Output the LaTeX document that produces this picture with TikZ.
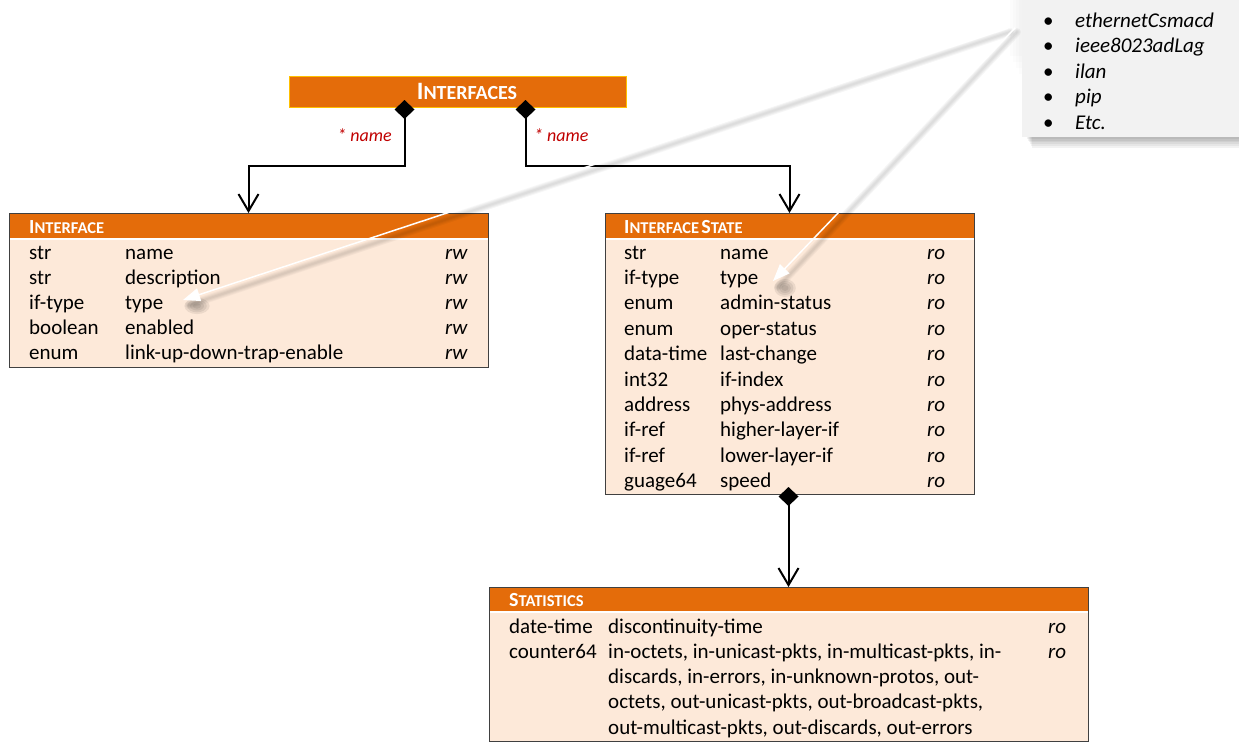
\documentclass[tikz,border=0pt]{standalone}
\usepackage{fontspec}
\setmainfont{Carlito}
\usetikzlibrary{arrows.meta,calc}
\definecolor{hdrc}{HTML}{E46C0A}
\definecolor{bodyc}{HTML}{FDE9D9}
\definecolor{titleedge}{HTML}{FFC000}
\definecolor{redtxt}{HTML}{C00000}
\definecolor{notefill}{HTML}{F2F2F2}
\newcommand\hbig[1]{{\fontsize{20}{20}\selectfont #1}}
\newcommand\hsmall[1]{{\fontsize{16.5}{16.5}\selectfont #1}}
\newcommand\tbig[1]{{\fontsize{25}{25}\selectfont #1}}
\newcommand\tsmall[1]{{\fontsize{20}{20}\selectfont #1}}
\begin{document}
\begin{tikzpicture}[x=1pt,y=-1pt,
  boxbody/.style={fill=bodyc,draw=none,inner sep=0pt,outer sep=0pt,anchor=north west},
  hdrfill/.style={fill=hdrc},
  edge/.style={draw=black!75,line width=1pt},
  sepline/.style={white,line width=1.6pt},
  txt/.style={anchor=base west,inner sep=0pt,font=\fontsize{21}{25}\selectfont},
  acc/.style={txt,font=\fontsize{21}{25}\selectfont\itshape},
  htxt/.style={anchor=base west,inner sep=0pt,text=white,font=\bfseries},
  lbl/.style={inner sep=0pt,text=redtxt,font=\fontsize{18}{20}\selectfont\itshape},
  conn/.style={line width=2pt,black},
  wshadow/.style={line cap=round,black,opacity=0.035},
  warrow/.style={line width=1.5pt,white,-{Triangle[length=17pt,width=13pt,fill=white]}}
]
\useasboundingbox (0,0) rectangle (1239,742);

% ---------- title box ----------
\node[fill=hdrc,draw=titleedge,line width=1pt,minimum width=337pt,minimum height=31pt,
      inner sep=0pt,anchor=north west] (top) at (289,76) {};
\node[anchor=base,inner sep=0pt,text=white,font=\bfseries] (toptxt) at (467,99)
      {\tbig{I}\tsmall{NTERFACES}};

% ---------- Interface box ----------
\node[boxbody,minimum width=479pt,minimum height=154pt] (iface) at (9,213) {};
\fill[hdrfill] (iface.north west) rectangle ($(iface.north east)+(0,25)$);
\draw[sepline] ($(iface.north west)+(0.5,25.8)$) -- ($(iface.north east)+(-0.5,25.8)$);
\draw[edge] (iface.north west) rectangle (iface.south east);
\node[htxt] (ifaceh) at (29,233) {\hbig{I}\hsmall{NTERFACE}};
\foreach \t/\n [count=\i from 0] in {str/name,str/description,if-type/type,boolean/enabled,enum/link-up-down-trap-enable}{
  \node[txt] (ift\i) at (29,{259+25.2*\i}) {\t};
  \node[txt] (ifn\i) at (125,{259+25.2*\i}) {\n};
  \node[acc] (ifa\i) at (445,{259+25.2*\i}) {rw};
}

% ---------- Interface State box ----------
\node[boxbody,minimum width=369pt,minimum height=281pt] (ifs) at (605,213) {};
\fill[hdrfill] (ifs.north west) rectangle ($(ifs.north east)+(0,25)$);
\draw[sepline] ($(ifs.north west)+(0.5,25.8)$) -- ($(ifs.north east)+(-0.5,25.8)$);
\draw[edge] (ifs.north west) rectangle (ifs.south east);
\node[htxt] (ifsh) at (624,233) {\hbig{I}\hsmall{NTERFACE} \hbig{S}\hsmall{TATE}};
\foreach \t/\n [count=\i from 0] in {str/name,if-type/type,enum/admin-status,enum/oper-status,data-time/last-change,int32/if-index,address/phys-address,if-ref/higher-layer-if,if-ref/lower-layer-if,guage64/speed}{
  \node[txt] (ist\i) at (624,{259+25.4*\i}) {\t};
  \node[txt] (isn\i) at (720,{259+25.4*\i}) {\n};
  \node[acc] (isa\i) at (927,{259+25.4*\i}) {ro};
}

% ---------- Statistics box ----------
\node[boxbody,minimum width=599pt,minimum height=154pt] (stats) at (489,587) {};
\fill[hdrfill] (stats.north west) rectangle ($(stats.north east)+(0,24)$);
\draw[sepline] ($(stats.north west)+(0.5,24.8)$) -- ($(stats.north east)+(-0.5,24.8)$);
\draw[edge] (stats.north west) rectangle (stats.south east);
\node[htxt] (statsh) at (509,606) {\hbig{S}\hsmall{TATISTICS}};
\node[txt] (st0) at (509,633) {date-time};
\node[txt] (sn0) at (608,633) {discontinuity-time};
\node[acc] (sa0) at (1048,633) {ro};
\node[txt] (st1) at (509,658) {counter64};
\node[txt] (sn1) at (608,658) {in-octets, in-unicast-pkts, in-multicast-pkts, in-};
\node[acc] (sa1) at (1048,658) {ro};
\node[txt] (sn2) at (608,683) {discards, in-errors, in-unknown-protos, out-};
\node[txt] (sn3) at (608,708.5) {octets, out-unicast-pkts, out-broadcast-pkts,};
\node[txt] (sn4) at (608,734) {out-multicast-pkts, out-discards, out-errors};

% ---------- connectors ----------
\coordinate (d1) at (404.5,100);
\coordinate (d2) at (525.5,100);
\coordinate (j1) at (248.5,166);
\coordinate (j2) at (789.5,166);
\coordinate (d3) at (788.5,487);
\draw[conn,{Diamond[length=19pt,width=20pt]}-{Straight Barb[length=17pt,width=20pt]}]
  (d1) |- (j1) -- (iface.north);
\draw[conn,{Diamond[length=19pt,width=20pt]}-{Straight Barb[length=17pt,width=20pt]}]
  (d2) |- (j2) -- (ifs.north);
\draw[conn,{Diamond[length=19pt,width=20pt]}-{Straight Barb[length=17pt,width=20pt]}]
  (d3) -- (stats.north);
\node[lbl,anchor=base east] (lab1) at (392,141) {* name};
\node[lbl,anchor=base west] (lab2) at (534,141) {* name};

% ---------- note ----------
\foreach \k in {1,...,6}{
  \fill[black,opacity=0.05] (1026+\k,6) rectangle (1239,{137+1.8*\k});
}
\foreach \k in {1,...,4}{
  \fill[black,opacity=0.012] ({1022-3*\k},0) rectangle (1022,{80-6*\k});
}
\node[fill=notefill,draw=none,inner sep=0pt,outer sep=0pt,minimum width=230pt,
      minimum height=137pt,anchor=north west] (note) at (1022,0) {};
\foreach \w [count=\i from 0] in {ethernetCsmacd,ieee8023adLag,ilan,pip,Etc.}{
  \node[txt] (nb\i) at (1043,{27+25.6*\i}) {•};
  \node[acc] (nt\i) at (1075,{27+25.6*\i}) {\w};
}

% ---------- white call-out arrows ----------
\coordinate (ws1) at (1008,28);
\coordinate (ws2) at (1015,28);
\coordinate (wt1) at (183,300);
\coordinate (wt2) at (773,281);
\foreach \lw in {2,4,6,8}{
  \draw[wshadow,line width=\lw pt] ($(ws1)+(2,4)$) -- ($(wt1)+(6,5)$);
  \draw[wshadow,line width=\lw pt] ($(ws2)+(2,4)$) -- ($(wt2)+(5,6)$);
}
\foreach \r in {3,5,7,9}{
  \fill[black,opacity=0.07] ($(wt1)+(14,6)$) ellipse ({\r*1.4pt} and {\r*0.9pt});
  \fill[black,opacity=0.07] ($(wt2)+(12,7)$) ellipse ({\r*1.2pt} and {\r*1.0pt});
}
\draw[warrow] (ws1) -- (wt1);
\draw[warrow] (ws2) -- (wt2);
\end{tikzpicture}
\end{document}
